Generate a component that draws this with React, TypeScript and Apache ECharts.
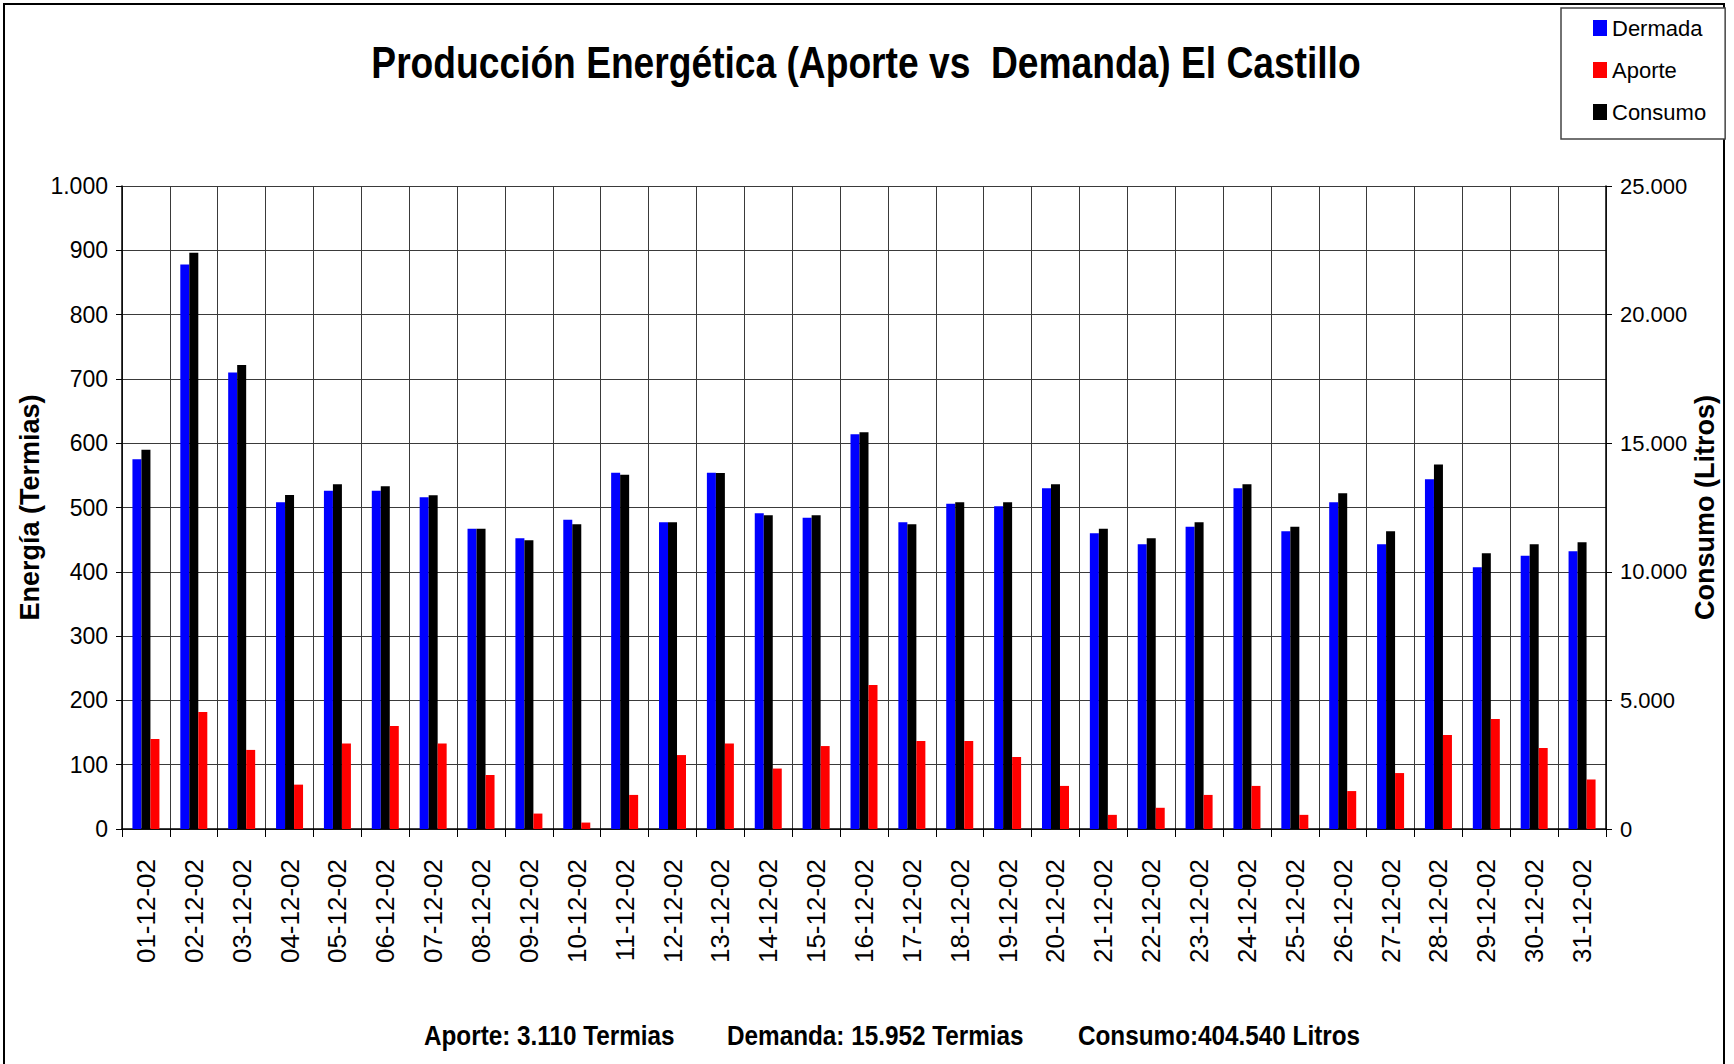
import React, { useEffect, useRef } from "react";
import * as echarts from "echarts";

const days = [
  "01-12-02", "02-12-02", "03-12-02", "04-12-02", "05-12-02", "06-12-02", "07-12-02", "08-12-02",
  "09-12-02", "10-12-02", "11-12-02", "12-12-02", "13-12-02", "14-12-02", "15-12-02", "16-12-02",
  "17-12-02", "18-12-02", "19-12-02", "20-12-02", "21-12-02", "22-12-02", "23-12-02", "24-12-02",
  "25-12-02", "26-12-02", "27-12-02", "28-12-02", "29-12-02", "30-12-02", "31-12-02",
];

// Demanda (Termias) - left axis
const demanda = [
  575, 878, 710, 508, 526, 526, 516, 467, 452, 481, 554, 477, 554, 491, 484, 614,
  477, 506, 502, 530, 460, 443, 470, 530, 463, 508, 443, 544, 407, 425, 432,
];

// Aporte (Termias) - left axis
const aporte = [
  140, 182, 123, 69, 133, 160, 133, 84, 24, 10, 53, 115, 133, 94, 129, 224,
  137, 137, 112, 67, 22, 33, 53, 67, 22, 59, 87, 146, 171, 126, 77,
];

// Consumo (Litros) - right axis
const consumo = [
  14750, 22400, 18040, 12985, 13400, 13325, 12975, 11675, 11225, 11850, 13770, 11925, 13840, 12200, 12200, 15425,
  11850, 12700, 12700, 13400, 11675, 11300, 11925, 13400, 11750, 13050, 11575, 14175, 10725, 11075, 11150,
];

const legendNames = ["Dermada", "Aporte", "Consumo"];
const titleText = "Producción Energética (Aporte vs  Demanda) El Castillo";
const footerTexts = ["Aporte: 3.110 Termias", "Demanda: 15.952 Termias", "Consumo:404.540 Litros"];
const leftAxisName = "Energía (Termias)";
const rightAxisName = "Consumo (Litros)";

const FONT = "'Liberation Sans', Arial, Helvetica, sans-serif";

const fmt = (v: number) => String(v).replace(/\B(?=(\d{3})+(?!\d))/g, ".");

function textEl(text: string, x: number, y: number, size: number, scaleX: number, align: string) {
  return {
    type: "text",
    x,
    y,
    scaleX,
    style: {
      text,
      fill: "#000",
      fontSize: size,
      fontWeight: "bold",
      fontFamily: FONT,
      align,
      verticalAlign: "middle",
      textAlign: align,
      textVerticalAlign: "middle",
    },
  };
}

export default function App() {
  const ref = useRef<HTMLDivElement>(null);

  useEffect(() => {
    if (!ref.current) return;
    const chart = echarts.init(ref.current, null, { renderer: "svg" });
    const gridColor = "#3a3a3a";
    chart.setOption({
      animation: false,
      backgroundColor: "#fff",
      textStyle: { fontFamily: FONT },
      grid: { left: 122, right: 128, top: 186, bottom: 235, containLabel: false },
      legend: {
        data: legendNames,
        orient: "vertical",
        left: 1561,
        top: 8,
        padding: [9, 19, 16, 32],
        itemWidth: 14,
        itemHeight: 16,
        itemGap: 20,
        icon: "rect",
        borderColor: "#444",
        borderWidth: 1.5,
        backgroundColor: "#fff",
        textStyle: { fontSize: 22, color: "#000", fontFamily: FONT },
      },
      xAxis: {
        type: "category",
        data: days,
        boundaryGap: true,
        axisLine: { show: true, lineStyle: { color: "#000", width: 1.5 } },
        axisTick: { show: true, interval: 0, length: 8, lineStyle: { color: "#000" } },
        splitLine: { show: true, interval: 0, lineStyle: { color: gridColor, width: 1 } },
        axisLabel: {
          interval: 0,
          rotate: 90,
          margin: 30,
          fontSize: 26,
          color: "#000",
          fontFamily: FONT,
        },
      },
      yAxis: [
        {
          type: "value",
          min: 0,
          max: 1000,
          interval: 100,
          name: leftAxisName,
          nameLocation: "middle",
          nameRotate: 90,
          nameGap: 79,
          nameMoveOverlap: false,
          nameTextStyle: { fontSize: 27, fontWeight: "bold", color: "#000", fontFamily: FONT },
          axisLine: { show: true, lineStyle: { color: "#000", width: 1.5 } },
          axisTick: { show: true, length: 6, lineStyle: { color: "#000" } },
          splitLine: { show: true, lineStyle: { color: gridColor, width: 1 } },
          axisLabel: { fontSize: 23, color: "#000", margin: 14, formatter: fmt, fontFamily: FONT },
        },
        {
          type: "value",
          min: 0,
          max: 25000,
          interval: 5000,
          name: rightAxisName,
          nameLocation: "middle",
          nameRotate: 90,
          nameGap: 85,
          nameMoveOverlap: false,
          nameTextStyle: { fontSize: 27, fontWeight: "bold", color: "#000", fontFamily: FONT },
          axisLine: { show: true, lineStyle: { color: "#000", width: 1.5 } },
          axisTick: { show: true, length: 6, lineStyle: { color: "#000" } },
          splitLine: { show: false },
          axisLabel: { fontSize: 22, color: "#000", margin: 14, formatter: fmt, fontFamily: FONT },
        },
      ],
      series: [
        {
          name: legendNames[0],
          type: "bar",
          yAxisIndex: 0,
          data: demanda,
          barWidth: 9,
          barGap: "0%",
          itemStyle: { color: "#0000ff" },
        },
        {
          name: legendNames[2],
          type: "bar",
          yAxisIndex: 1,
          data: consumo,
          barWidth: 9,
          barGap: "0%",
          itemStyle: { color: "#000000" },
        },
        {
          name: legendNames[1],
          type: "bar",
          yAxisIndex: 0,
          data: aporte,
          barWidth: 9,
          barGap: "0%",
          itemStyle: { color: "#ff0000" },
        },
      ],
      graphic: [
        {
          type: "rect",
          shape: { x: 4, y: 4, width: 1720, height: 1100 },
          style: { fill: "none", stroke: "#000", lineWidth: 2 },
          silent: true,
          z: -1,
        },
        textEl(titleText, 866, 63, 44, 0.845, "center"),
        textEl(footerTexts[0], 424, 1036, 27, 0.9, "left"),
        textEl(footerTexts[1], 727, 1036, 27, 0.9, "left"),
        textEl(footerTexts[2], 1078, 1036, 27, 0.9, "left"),
      ],
    });
    return () => chart.dispose();
  }, []);

  return (
    <div
      ref={ref}
      style={{ position: "fixed", left: 0, top: 0, width: 1734, height: 1064, background: "#fff" }}
    />
  );
}
